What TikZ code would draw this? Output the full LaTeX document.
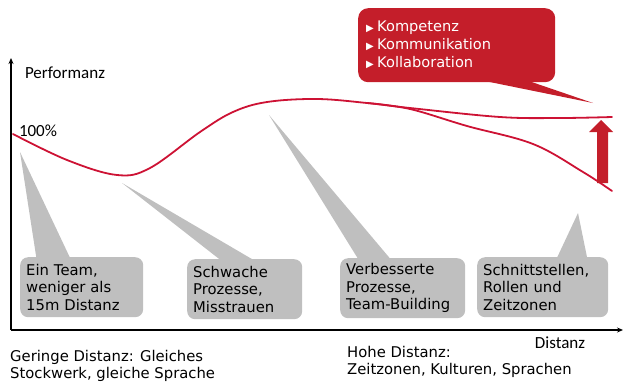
\documentclass[tikz,border=0pt]{standalone}
\usepackage{fontspec}
\setmainfont{DejaVu Sans}
\newfontfamily\axisfont{Carlito}
\usetikzlibrary{arrows.meta}
\definecolor{cred}{RGB}{196,30,42}
\definecolor{cline}{RGB}{205,18,52}
\definecolor{cgray}{RGB}{191,191,191}
\begin{document}
\begin{tikzpicture}[x=1pt,y=-1pt,
  boxfont/.style={font=\fontsize{14.8}{17.5}\selectfont},
  graybox/.style={fill=cgray, rounded corners=8pt, anchor=north west, minimum height=60pt,
    align=left, inner xsep=6pt, inner ysep=0pt, boxfont},
  tail/.style={fill=cgray},
  axislabel/.style={font=\axisfont\fontsize{17}{20}\selectfont, inner sep=0pt},
  axisline/.style={line width=1.5pt, -{Stealth[length=6pt,width=5pt]}},
  perf/.style={draw=cline, line width=1.8pt, line cap=round},
  callbox/.style={fill=cred, text=white, rounded corners=10pt, anchor=north west,
    minimum width=197pt, minimum height=74pt, align=left, inner xsep=8pt,
    font=\fontsize{14.6}{18}\selectfont},
  note/.style={anchor=west, align=left, inner sep=0pt, font=\fontsize{14.8}{17}\selectfont}]
\useasboundingbox (0,0) rectangle (623,381);

% axes
\coordinate (o) at (11,330);
\coordinate (ytop) at (11,58);
\coordinate (xend) at (623,330);
\draw[axisline] (o) -- (ytop);
\draw[axisline] (o) -- (xend);
\node[axislabel] (perfl) at (65,73) {Performanz};
\node[axislabel] (hundert) at (38,131) {100\%};
\node[axislabel] (dist) at (560,343) {Distanz};

% tails of gray boxes
\coordinate (t1) at (20,152);
\coordinate (t2) at (122,183);
\coordinate (t3) at (269,115);
\coordinate (t4) at (578,213);
\fill[tail] (t1) -- (37,262) -- (72,262) -- cycle;
\fill[tail] (t2) -- (223,262) -- (257,262) -- cycle;
\fill[tail] (t3) -- (360,262) -- (393,262) -- cycle;
\fill[tail] (t4) -- (555,262) -- (588,262) -- cycle;

% gray boxes
\node[graybox, text width=111pt] (b1) at (20,257) {Ein Team,\\weniger als\\15m Distanz};
\node[graybox, text width=103pt] (b2) at (187,259) {Schwache\\Prozesse,\\Misstrauen};
\node[graybox, text width=113pt] (b3) at (340,258) {Verbesserte\\Prozesse,\\Team-Building};
\node[graybox, text width=119pt] (b4) at (477,257) {Schnittstellen,\\Rollen und\\Zeitzonen};

% performance curves
\draw[perf] plot[smooth, tension=0.6] coordinates {(13,134) (67,160) (117,175) (150,168) (200,132) (233,112) (267,102) (317,99) (367,103) (410,108) (500,117) (560,118) (612,117)};
\draw[perf] plot[smooth, tension=0.6] coordinates {(367,103) (410,109) (467,126) (533,144) (583,172) (612,191)};

% red block arrow
\fill[cred] (597,183) -- (608,183) -- (608,132) -- (613,132) -- (601,120) -- (589,132) -- (597,132) -- cycle;

% red callout
\coordinate (ctip) at (593,103);
\fill[cred] (470,78) -- (ctip) -- (520,78) -- cycle;
\node[callbox, text width=181pt] (call) at (358,8)
  {\makebox[11pt][l]{\fontsize{10}{10}\selectfont▶}Kompetenz\\
   \makebox[11pt][l]{\fontsize{10}{10}\selectfont▶}Kommunikation\\
   \makebox[11pt][l]{\fontsize{10}{10}\selectfont▶}Kollaboration};

% bottom notes
\node[note] (gering) at (10,365.5) {Geringe Distanz: Gleiches\\Stockwerk, gleiche Sprache};
\node[note] (hoch) at (347,362) {Hohe Distanz:\\Zeitzonen, Kulturen, Sprachen};
\end{tikzpicture}
\end{document}
